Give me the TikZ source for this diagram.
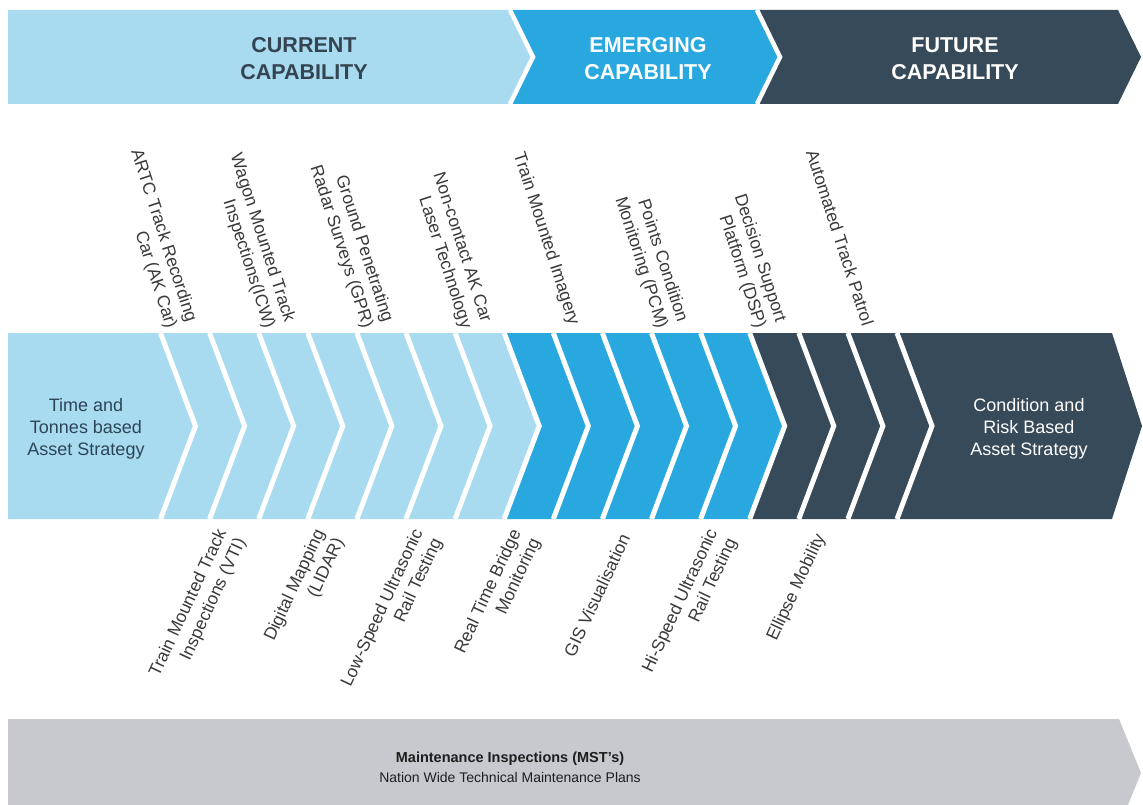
\documentclass[tikz,border=0pt]{standalone}
\usepackage{fontspec}
\setmainfont{Liberation Sans}
\usepackage{xcolor}
\usepackage{tikz}
\usetikzlibrary{calc}
\definecolor{CurrentBlue}{RGB}{168,218,240}
\definecolor{EmergingBlue}{RGB}{41,168,223}
\definecolor{FutureSlate}{RGB}{54,74,89}
\definecolor{PlanGrey}{RGB}{199,201,206}
\definecolor{HeadSlate}{RGB}{52,68,80}
\definecolor{StrategyText}{RGB}{44,70,86}
\definecolor{LabelGrey}{RGB}{58,58,58}
\definecolor{PlanText}{RGB}{30,30,30}

\begin{document}
\begin{tikzpicture}[
  x=1pt, y=-1pt,
  heading/.style={align=center, font={\fontsize{21.5}{27}\selectfont\bfseries}},
  strategy/.style={align=center, font={\fontsize{18}{22}\selectfont}},
  toplabel/.style={anchor=east, align=right, rotate=-72, inner sep=0pt, text=LabelGrey, font={\fontsize{17.5}{21}\selectfont}},
  botlabel/.style={anchor=east, align=right, rotate=65, inner sep=0pt, text=LabelGrey, font={\fontsize{17.5}{21}\selectfont}},
  plan/.style={align=center, text=PlanText, font={\fontsize{14}{20}\selectfont}},
  gap/.style={draw=white, line width=5pt},
]
\useasboundingbox[fill=white] (0,0) rectangle (1143,805);

% capability band
\fill[CurrentBlue] (8,10) -- (510,10) -- (533,57) -- (510,104) -- (8,104) -- cycle;
\fill[EmergingBlue] (510,10) -- (757,10) -- (780,57) -- (757,104) -- (510,104) -- (533,57) -- cycle;
\fill[FutureSlate] (757,10) -- (1118,10) -- (1141,57) -- (1118,104) -- (757,104) -- (780,57) -- cycle;
\draw[gap, line width=4.5pt] (510,10) -- (533,57) -- (510,104);
\draw[gap, line width=4.5pt] (757,10) -- (780,57) -- (757,104);
\node[heading, text=HeadSlate] (current) at (304,59) {CURRENT\\CAPABILITY};
\node[heading, text=white] (emerging) at (648,59) {EMERGING\\CAPABILITY};
\node[heading, text=white] (future) at (955,59) {FUTURE\\CAPABILITY};

% strategy band
\fill[CurrentBlue] (8,333) -- (504.2,333) -- (539.2,426) -- (504.2,519) -- (8,519) -- cycle;
\fill[EmergingBlue] (504.2,333) -- (749.7,333) -- (784.7,426) -- (749.7,519) -- (504.2,519) -- (539.2,426) -- cycle;
\fill[FutureSlate] (749.7,333) -- (1112,333) -- (1142,426) -- (1112,519) -- (749.7,519) -- (784.7,426) -- cycle;
\foreach \k in {0,...,15}
  \draw[gap] ({160.5+49.1*\k},333) -- ({195.5+49.1*\k},426) -- ({160.5+49.1*\k},519);
\node[strategy, text=StrategyText] (timebased) at (86,429) {Time and\\Tonnes based\\Asset Strategy};
\node[strategy, text=white] (riskbased) at (1029,429) {Condition and\\Risk Based\\Asset Strategy};

% technologies above
\node[toplabel] (artc) at (181,325) {ARTC Track Recording\\Car (AK Car)};
\node[toplabel] (icw) at (279.2,325) {Wagon Mounted Track\\Inspections(ICW)};
\node[toplabel] (gpr) at (377.4,325) {Ground Penetrating\\Radar Surveys (GPR)};
\node[toplabel] (laser) at (475.6,325) {Non-contact AK Car\\Laser Technology};
\node[toplabel] (imagery) at (573.8,325) {Train Mounted Imagery};
\node[toplabel] (pcm) at (672,325) {Points Condition\\Monitoring (PCM)};
\node[toplabel] (dsp) at (770.2,325) {Decision Support\\Platform (DSP)};
\node[toplabel] (patrol) at (868.4,325) {Automated Track Patrol};

% technologies below
\node[botlabel] (vti) at (232.1,535) {Train Mounted Track\\Inspections (VTI)};
\node[botlabel] (lidar) at (330.3,535) {Digital Mapping\\(LIDAR)};
\node[botlabel] (lowspeed) at (428.5,535) {Low-Speed Ultrasonic\\Rail Testing};
\node[botlabel] (bridge) at (526.7,535) {Real Time Bridge\\Monitoring};
\node[botlabel] (gis) at (624.9,535) {GIS Visualisation};
\node[botlabel] (hispeed) at (723.1,535) {Hi-Speed Ultrasonic\\Rail Testing};
\node[botlabel] (ellipse) at (821.3,535) {Ellipse Mobility};

% maintenance band
\begin{scope}
\clip (0,0) rectangle (1143,805);
\fill[PlanGrey] (8,719) -- (1119,719) -- (1141,773) -- (1119,827) -- (8,827) -- cycle;
\end{scope}
\node[plan] (mst) at (510,767) {{\fontsize{14.5}{20}\selectfont\bfseries Maintenance Inspections (MST’s)}\\Nation Wide Technical Maintenance Plans};
\end{tikzpicture}
\end{document}
